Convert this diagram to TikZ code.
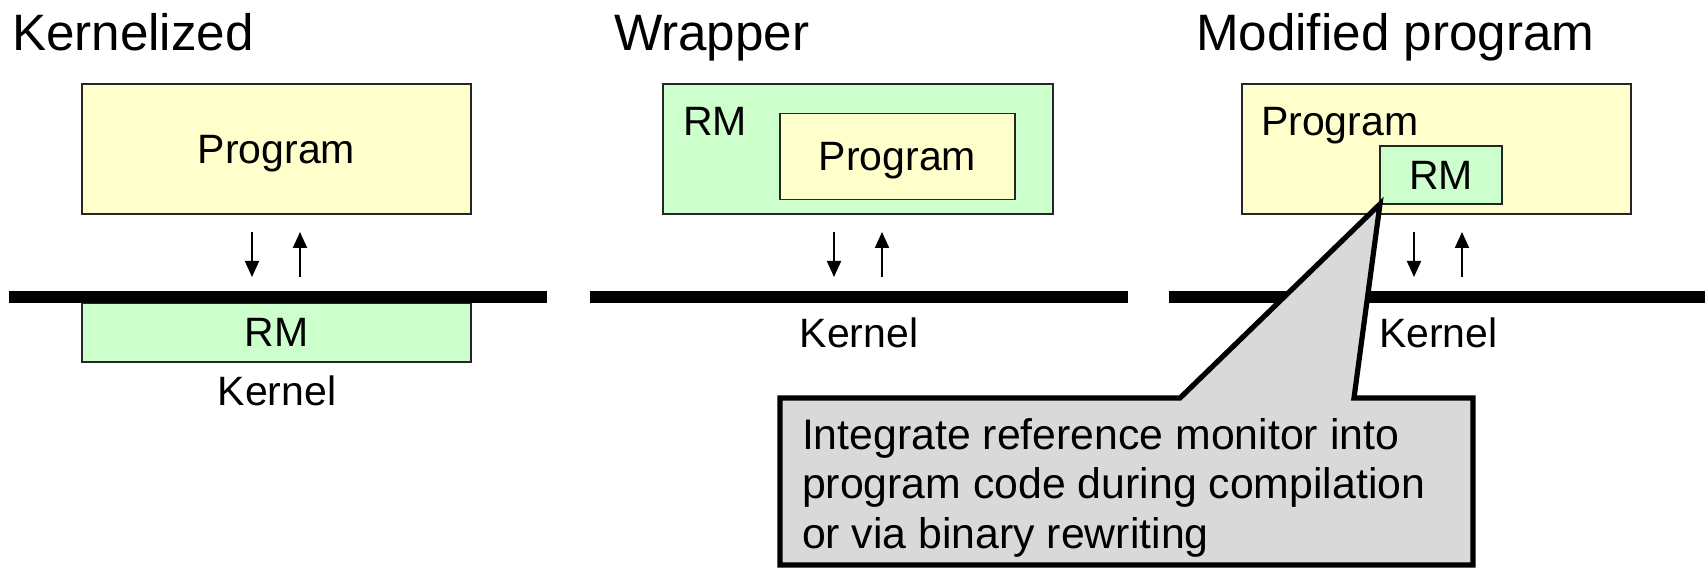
\documentclass[tikz,border=0pt]{standalone}
\usepackage{fontspec}
\setmainfont{Liberation Sans}
\definecolor{progyellow}{HTML}{FFFFCC}
\definecolor{rmgreen}{HTML}{CCFFCC}
\definecolor{notegray}{HTML}{D9D9D9}
\usetikzlibrary{arrows.meta, positioning}

\begin{document}
\begin{tikzpicture}[
  x=0.5pt, y=-0.5pt,
  every node/.style={inner sep=0pt, outer sep=0pt},
  title/.style={font=\fontsize{25.6}{30}\selectfont, anchor=base west},
  lbl/.style={font=\fontsize{20.5}{24.5}\selectfont},
  notetext/.style={font=\fontsize{21.4}{24.75}\selectfont},
  box/.style={rectangle, draw=black!85, line width=0.8pt, lbl, text depth=0pt},
  prog/.style={box, fill=progyellow},
  rm/.style={box, fill=rmgreen},
  kbar/.style={line width=6pt},
  arr/.style={-{Triangle[length=8pt, width=7pt]}, line width=1pt},
  note/.style={draw, line width=2.6pt, fill=notegray},
]
  \useasboundingbox (0,0) rectangle (1705,571);

  % Titles
  \node[title] (ktitle) at (12,51) {Kernelized};
  \node[title] (wtitle) at (614,51) {Wrapper};
  \node[title] (mtitle) at (1196,51) {Modified program};

  % Kernelized
  \node[prog, minimum width=194.5pt, minimum height=65pt] (kprog) at (276.5,149) {Program};
  \node[rm, minimum width=194.5pt, minimum height=29.5pt] (krm) at (276.5,332.5) {RM};
  \node[lbl, anchor=base] (kkern) at (277,406) {Kernel};

  % Wrapper
  \node[rm, minimum width=195pt, minimum height=65pt] (wrm) at (858,149) {};
  \node[lbl, anchor=base west] (wrmlbl) at (683,136) {RM};
  \node[prog, minimum width=117.5pt, minimum height=43pt] (wprog) at (897.5,156.5) {Program};
  \node[lbl, anchor=base] (wkern) at (859,348) {Kernel};

  % Modified program
  \node[prog, minimum width=194.5pt, minimum height=65pt] (mprog) at (1436.5,149) {};
  \node[lbl, anchor=base west] (mproglbl) at (1261,136) {Program};
  \node[rm, minimum width=61pt, minimum height=29pt] (mrm) at (1441,175) {RM};
  \node[lbl, anchor=base west] (mkern) at (1379,348) {Kernel};

  % Kernel boundary
  \foreach \n/\a/\b in {k/9/547, w/590/1128, m/1169/1712}{
    \coordinate (\n-barl) at (\a,297);
    \coordinate (\n-barr) at (\b,297);
    \draw[kbar] (\n-barl) -- (\n-barr);
  }

  % Calls down and up
  \foreach \x/\n in {252/k, 834/w, 1414/m}{
    \coordinate (\n-dtop) at (\x,232);
    \coordinate (\n-dbot) at (\x,277);
    \coordinate (\n-utop) at (\x+48,232);
    \coordinate (\n-ubot) at (\x+48,277);
    \draw[arr] (\n-dtop) -- (\n-dbot);
    \draw[arr] (\n-ubot) -- (\n-utop);
  }

  % Callout
  \coordinate (note-nw) at (780,398);
  \coordinate (note-pl) at (1180,398);
  \coordinate (note-pr) at (1354,398);
  \coordinate (note-ne) at (1473,398);
  \coordinate (note-se) at (1473,565);
  \coordinate (note-sw) at (780,565);
  \draw[note] (note-nw) -- (note-pl) -- (mrm.south west) -- (note-pr)
    -- (note-ne) -- (note-se) -- (note-sw) -- cycle;
  \node[notetext, anchor=north west, align=left] (note) at (802,418)
    {Integrate reference monitor into\\program code during compilation\\or via binary rewriting};
\end{tikzpicture}
\end{document}
